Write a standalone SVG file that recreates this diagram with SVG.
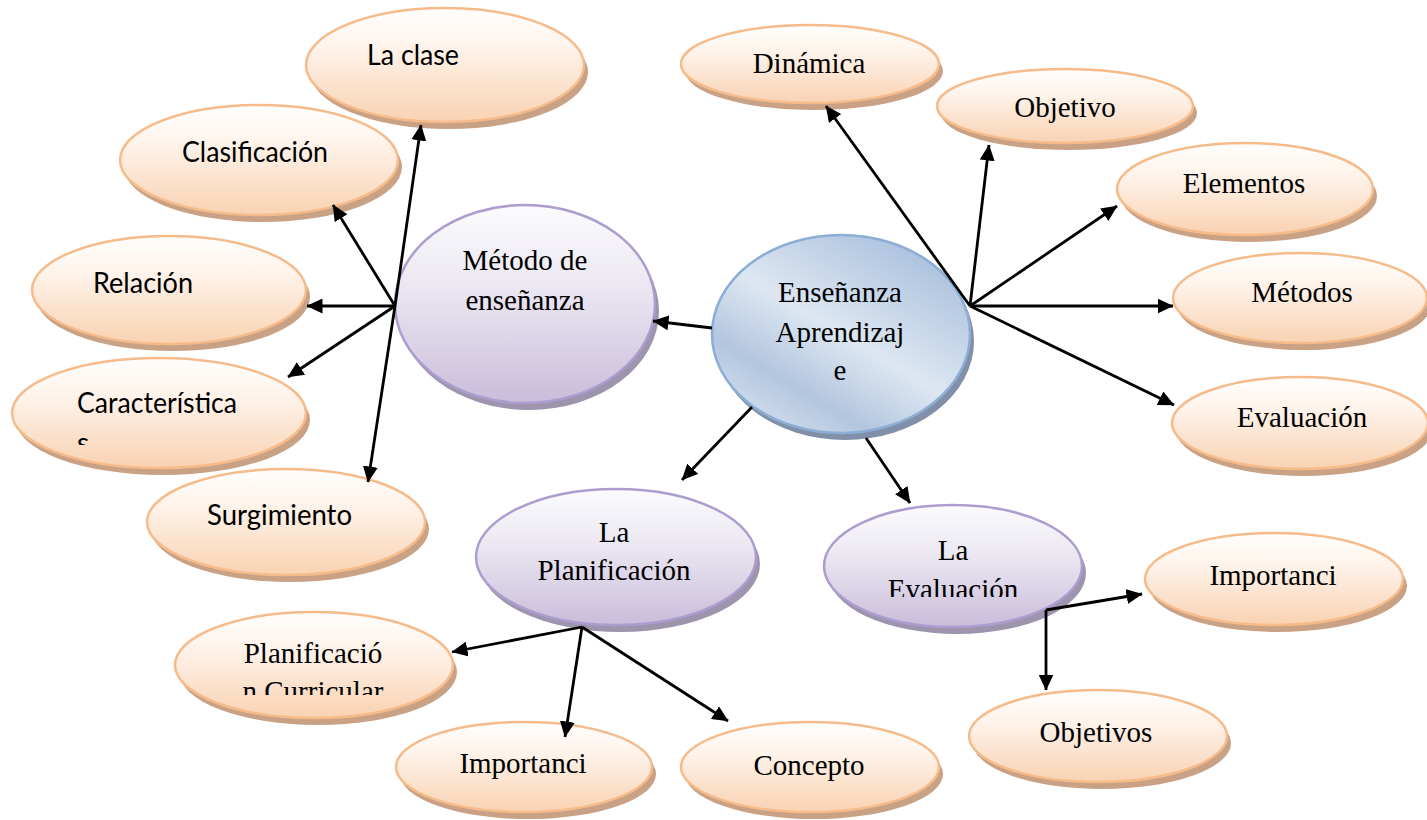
<svg xmlns="http://www.w3.org/2000/svg" width="1427" height="820" viewBox="0 0 1427 820">
<style>
.o{fill:url(#og);stroke:#f6bb8a;stroke-width:2.5}
.os{fill:#c9a184}
.p{fill:url(#pg);stroke:#ad9dcf;stroke-width:2.5}
.ps{fill:#9d94ad}
.b{fill:url(#bg);stroke:#8caed6;stroke-width:2.5}
.bs{fill:#8190a8}
.t{font-family:"Liberation Serif","Times New Roman",serif;font-size:29px;fill:#000;text-anchor:middle}
.c{font-family:Lato,"Liberation Sans",sans-serif;font-size:28px;fill:#000}
.cn line{stroke:#000;stroke-width:2.8;marker-end:url(#ah)}
</style>
<defs>
<linearGradient id="og" x1="0" y1="0" x2="0" y2="1">
<stop offset="0" stop-color="#fffefd"/><stop offset="0.35" stop-color="#fef3ea"/><stop offset="1" stop-color="#f9d2b2"/>
</linearGradient>
<linearGradient id="pg" x1="0" y1="0" x2="0" y2="1">
<stop offset="0" stop-color="#fbfbfd"/><stop offset="0.4" stop-color="#ece8f2"/><stop offset="1" stop-color="#c9bddb"/>
</linearGradient>
<linearGradient id="bg" x1="0.85" y1="0.05" x2="0.15" y2="0.95">
<stop offset="0" stop-color="#a7bedc"/><stop offset="0.5" stop-color="#dde7f2"/><stop offset="0.78" stop-color="#b3c6df"/><stop offset="1" stop-color="#d3dfee"/>
</linearGradient>
<marker id="ah" viewBox="0 0 16 15" refX="15.5" refY="7.5" markerWidth="16" markerHeight="15" orient="auto" markerUnits="userSpaceOnUse">
<path d="M0,0 L16,7.5 L0,15 z" fill="#000"/>
</marker>
<clipPath id="clipCar"><rect x="0" y="300" width="400" height="145"/></clipPath>
<clipPath id="clipPC"><rect x="150" y="600" width="320" height="95"/></clipPath>
<clipPath id="clipEv"><rect x="820" y="500" width="270" height="97"/></clipPath>
</defs>

<g id="n-laclase"><ellipse class="os" cx="449" cy="72" rx="139" ry="57"/><ellipse class="o" cx="445" cy="65" rx="139" ry="57"/><text class="c" x="367" y="65" textLength="92" lengthAdjust="spacingAndGlyphs">La clase</text></g>
<g id="n-clasificacion"><ellipse class="os" cx="263" cy="167" rx="139" ry="55"/><ellipse class="o" cx="259" cy="160" rx="139" ry="55"/><text class="c" x="182" y="162" textLength="146" lengthAdjust="spacingAndGlyphs">Clasificación</text></g>
<g id="n-relacion"><ellipse class="os" cx="173" cy="297" rx="137" ry="54"/><ellipse class="o" cx="169" cy="290" rx="137" ry="54"/><text class="c" x="93" y="293" textLength="100" lengthAdjust="spacingAndGlyphs">Relación</text></g>
<g id="n-caracteristicas"><ellipse class="os" cx="163" cy="420" rx="147" ry="55"/><ellipse class="o" cx="159" cy="413" rx="147" ry="55"/><g clip-path="url(#clipCar)"><text class="c" x="77" y="413" textLength="160" lengthAdjust="spacingAndGlyphs">Característica</text><text class="c" x="77" y="453">s</text></g></g>
<g id="n-surgimiento"><ellipse class="os" cx="290" cy="529" rx="139" ry="53"/><ellipse class="o" cx="286" cy="522" rx="139" ry="53"/><text class="c" x="207" y="525" textLength="145" lengthAdjust="spacingAndGlyphs">Surgimiento</text></g>
<g id="n-plancurr"><ellipse class="os" cx="318" cy="672" rx="139" ry="53"/><ellipse class="o" cx="314" cy="665" rx="139" ry="53"/><g clip-path="url(#clipPC)"><text class="t" x="313" y="663">Planificació</text><text class="t" x="313" y="701">n Curricular</text></g></g>
<g id="n-importanci1"><ellipse class="os" cx="528" cy="774" rx="128" ry="45"/><ellipse class="o" cx="524" cy="767" rx="128" ry="45"/><text class="t" x="523" y="773">Importanci</text></g>
<g id="n-concepto"><ellipse class="os" cx="814" cy="774" rx="129" ry="45"/><ellipse class="o" cx="810" cy="767" rx="129" ry="45"/><text class="t" x="809" y="775">Concepto</text></g>
<g id="n-objetivos"><ellipse class="os" cx="1102" cy="743" rx="129" ry="46"/><ellipse class="o" cx="1098" cy="736" rx="129" ry="46"/><text class="t" x="1096" y="742">Objetivos</text></g>
<g id="n-importanci2"><ellipse class="os" cx="1278" cy="586" rx="129" ry="46"/><ellipse class="o" cx="1274" cy="579" rx="129" ry="46"/><text class="t" x="1273" y="585">Importanci</text></g>
<g id="n-evaluacion"><ellipse class="os" cx="1304" cy="430" rx="128" ry="46"/><ellipse class="o" cx="1300" cy="423" rx="128" ry="46"/><text class="t" x="1302" y="427">Evaluación</text></g>
<g id="n-metodos"><ellipse class="os" cx="1304" cy="305" rx="127" ry="45"/><ellipse class="o" cx="1300" cy="298" rx="127" ry="45"/><text class="t" x="1302" y="302">Métodos</text></g>
<g id="n-elementos"><ellipse class="os" cx="1249" cy="196" rx="128" ry="46"/><ellipse class="o" cx="1245" cy="189" rx="128" ry="46"/><text class="t" x="1244" y="193">Elementos</text></g>
<g id="n-objetivo"><ellipse class="os" cx="1069" cy="113" rx="128" ry="37"/><ellipse class="o" cx="1065" cy="106" rx="128" ry="37"/><text class="t" x="1065" y="117">Objetivo</text></g>
<g id="n-dinamica"><ellipse class="os" cx="814" cy="71" rx="129" ry="39"/><ellipse class="o" cx="810" cy="64" rx="129" ry="39"/><text class="t" x="809" y="73">Dinámica</text></g>

<g id="n-metodo"><ellipse class="ps" cx="529" cy="311" rx="130" ry="99"/><ellipse class="p" cx="525" cy="304" rx="130" ry="99"/><text class="t" x="525" y="270">Método de</text><text class="t" x="525" y="310">enseñanza</text></g>
<g id="n-planificacion"><ellipse class="ps" cx="620" cy="564" rx="140" ry="68"/><ellipse class="p" cx="616" cy="557" rx="140" ry="68"/><text class="t" x="614" y="542">La</text><text class="t" x="614" y="580">Planificación</text></g>
<g id="n-laevaluacion"><ellipse class="ps" cx="957" cy="573" rx="129" ry="61"/><ellipse class="p" cx="953" cy="566" rx="129" ry="61"/><g clip-path="url(#clipEv)"><text class="t" x="953" y="560">La</text><text class="t" x="953" y="599">Evaluación</text></g></g>
<g id="n-ensenanza"><ellipse class="bs" cx="845" cy="341" rx="129" ry="99"/><ellipse class="b" cx="841" cy="334" rx="129" ry="99"/><text class="t" x="840" y="302">Enseñanza</text><text class="t" x="840" y="342">Aprendizaj</text><text class="t" x="840" y="380">e</text></g>

<g id="connectors" class="cn">
<line x1="395" y1="306" x2="421" y2="125"/>
<line x1="395" y1="306" x2="333" y2="205"/>
<line x1="395" y1="306" x2="307" y2="306"/>
<line x1="395" y1="306" x2="288" y2="377"/>
<line x1="395" y1="306" x2="368" y2="482"/>
<line x1="712" y1="328" x2="653" y2="321"/>
<line x1="752" y1="407" x2="682" y2="480"/>
<line x1="866" y1="438" x2="910" y2="503"/>
<line x1="970" y1="306" x2="826" y2="106"/>
<line x1="970" y1="306" x2="989" y2="145"/>
<line x1="970" y1="306" x2="1117" y2="206"/>
<line x1="970" y1="306" x2="1173" y2="306"/>
<line x1="970" y1="306" x2="1174" y2="405"/>
<line x1="582" y1="627" x2="452" y2="652"/>
<line x1="582" y1="627" x2="565" y2="737"/>
<line x1="582" y1="627" x2="728" y2="721"/>
<line x1="1046" y1="610" x2="1142" y2="594"/>
<line x1="1046" y1="610" x2="1046" y2="690"/>
</g>
</svg>
